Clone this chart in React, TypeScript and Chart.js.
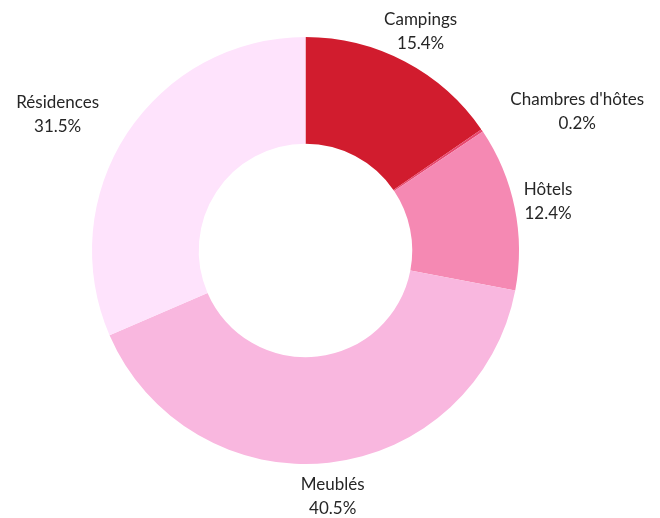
import React, { useEffect, useRef } from "react";
import { Chart, registerables } from "chart.js";

Chart.register(...registerables);

const categories = ["Campings", "Chambres d'hôtes", "Hôtels", "Meublés", "Résidences"];
const shares = [15.4, 0.2, 12.4, 40.5, 31.5];
const percentLabels = ["15.4%", "0.2%", "12.4%", "40.5%", "31.5%"];
const sliceColors = ["#D11C2E", "#E8476E", "#F589B3", "#F9B7DF", "#FEE3FC"];

const FONT = "17px Lato";
const LINE_H = 24;

const outLabels = {
  id: "outLabels",
  afterDraw(chart: any) {
    const ctx = chart.ctx;
    const meta = chart.getDatasetMeta(0);
    ctx.save();
    ctx.font = FONT;
    ctx.fillStyle = "#262626";
    ctx.textAlign = "center";
    ctx.textBaseline = "middle";
    meta.data.forEach((arc: any, i: number) => {
      const p = arc.getProps(["x", "y", "startAngle", "endAngle", "outerRadius"], true);
      const a = (p.startAngle + p.endAngle) / 2;
      const vx = Math.cos(a);
      const vy = Math.sin(a);
      const R = p.outerRadius;
      const lines = [categories[i], percentLabels[i]];
      const w = Math.max(...lines.map((l) => ctx.measureText(l).width));
      const hw = w / 2;
      const hh = 20;
      let cx = p.x + (R + 34) * vx;
      const cy = p.y + (R + 34) * vy;
      const nearest = (x: number) => {
        const nx = Math.max(x - hw, Math.min(p.x, x + hw));
        const ny = Math.max(cy - hh, Math.min(p.y, cy + hh));
        return Math.hypot(nx - p.x, ny - p.y);
      };
      if (nearest(cx) < R) {
        const dir = vx >= 0 ? 1 : -1;
        let guard = 0;
        while (nearest(cx) < R + 23 && guard < 400) {
          cx += dir;
          guard++;
        }
      }
      ctx.fillText(lines[0], cx, cy - LINE_H / 2);
      ctx.fillText(lines[1], cx, cy + LINE_H / 2);
    });
    ctx.restore();
  },
};

export default function App() {
  const ref = useRef<HTMLCanvasElement>(null);
  useEffect(() => {
    if (!ref.current) return;
    const chart = new Chart(ref.current, {
      type: "doughnut",
      data: {
        labels: categories,
        datasets: [
          {
            data: shares,
            backgroundColor: sliceColors,
            borderWidth: 0,
          },
        ],
      },
      options: {
        animation: false,
        responsive: true,
        maintainAspectRatio: false,
        cutout: "50%",
        layout: { padding: { left: 84, right: 133, top: 29, bottom: 54 } },
        plugins: {
          legend: { display: false },
          tooltip: { enabled: false },
        },
      },
      plugins: [outLabels],
    });
    return () => chart.destroy();
  }, []);
  return (
    <div style={{ width: 644, height: 510, position: "relative" }}>
      <canvas ref={ref} />
    </div>
  );
}
